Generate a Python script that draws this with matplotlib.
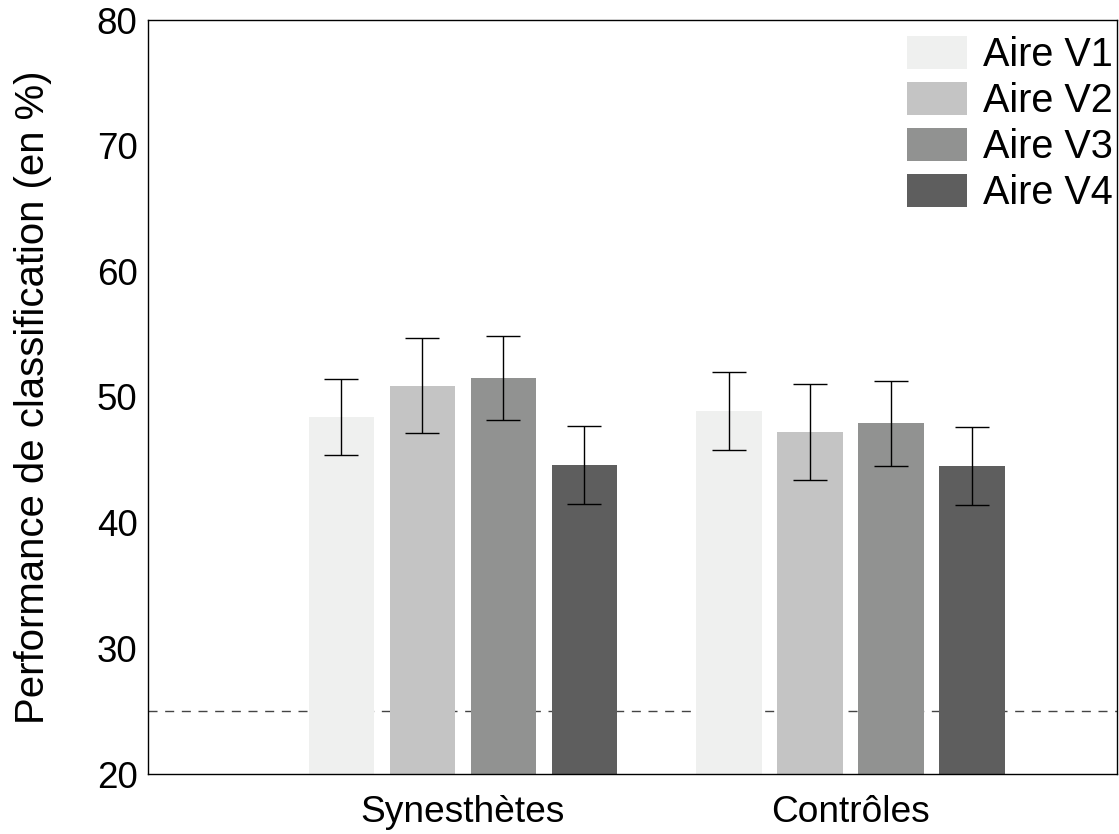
import matplotlib
matplotlib.use("Agg")
import matplotlib.pyplot as plt
import numpy as np

plt.rcParams['font.family'] = ['Liberation Sans', 'DejaVu Sans']

groups = ["Synesthètes", "Contrôles"]
areas = ["Aire V1", "Aire V2", "Aire V3", "Aire V4"]
means = {
    "Aire V1": [48.4, 48.9],
    "Aire V2": [50.9, 47.2],
    "Aire V3": [51.5, 47.9],
    "Aire V4": [44.6, 44.5],
}
errors = {
    "Aire V1": [3.05, 3.1],
    "Aire V2": [3.8, 3.8],
    "Aire V3": [3.35, 3.4],
    "Aire V4": [3.1, 3.1],
}
colors = ["#eff0ef", "#c4c4c4", "#919291", "#5e5e5e"]
chance = 25
yticks = [20, 30, 40, 50, 60, 70, 80]

fig = plt.figure(figsize=(11.19, 8.34), dpi=100)
ax = fig.add_axes([148/1119, 60/834, 969/1119, 754/834])

centers = np.array([1.0, 2.0])
offset = 0.2088
width = 0.170
for i, a in enumerate(areas):
    x = centers + (i - 1.5) * offset
    ax.bar(x, means[a], width=width, color=colors[i], label=a, zorder=2)
    ax.errorbar(x, means[a], yerr=errors[a], fmt='none', ecolor='black',
                elinewidth=1.0, capsize=12, capthick=1.0, zorder=3)

ax.axhline(chance, color='#444444', linestyle=(0, (6.5, 5.5)), linewidth=1.0, zorder=1)

ax.set_xlim(0.188, 2.686)
ax.set_ylim(20, 80)
ax.set_yticks(yticks)
ax.set_xticks(centers)
ax.set_xticklabels(groups)
ax.tick_params(axis='y', length=0, labelsize=26.5, pad=7.5)
ax.tick_params(axis='x', length=0, labelsize=26.7, pad=15)
ax.set_ylabel("Performance de classification (en %)", fontsize=28.9, labelpad=32)
for s in ax.spines.values():
    s.set_linewidth(1.0)

ax.legend(loc='upper right', frameon=False, fontsize=28.5, handlelength=1.52,
          handleheight=0.91, labelspacing=0.2, handletextpad=0.4,
          borderaxespad=0.15, borderpad=0.2,
          bbox_to_anchor=(1.0 + 10/969, 1.0 - 2/754))

fig.savefig("out.png", dpi=100)
